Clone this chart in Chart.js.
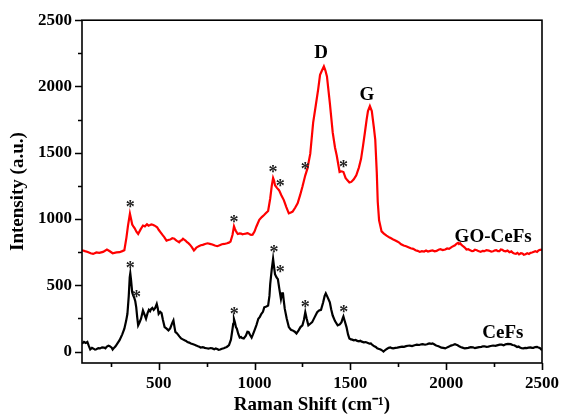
<!DOCTYPE html>
<html>
<head>
<meta charset="utf-8">
<script src="https://cdn.jsdelivr.net/npm/chart.js@4"></script>
<style>
  body { margin: 0; background: #fff; }
</style>
</head>
<body>
<canvas id="raman" width="569" height="416"></canvas>
<script>
// GO-CeFs spectrum (red)
const goShift = [100,115,130,145,158,175,190,210,230,245,260,280,296,310,321,332,340,350,356,362,368,375,384,393,405,418,428,439,447,455,462,469,477,485,492,500,510,520,530,541,550,560,571,582,590,595,601,607,614,620,627,633,640,648,655,663,672,684,690,697,703,709,720,730,742,755,767,780,793,806,818,830,843,857,866,875,885,893,898,903,908,913,922,930,937,944,954,964,970,975,982,990,1000,1010,1025,1038,1050,1060,1071,1082,1090,1097,1102,1107,1117,1128,1140,1153,1166,1179,1190,1199,1212,1225,1238,1250,1265,1276,1291,1306,1320,1332,1342,1352,1362,1370,1378,1393,1408,1420,1429,1444,1455,1464,1475,1485,1495,1505,1518,1531,1545,1556,1566,1576,1585,1592,1602,1612,1622,1630,1638,1643,1650,1663,1675,1689,1705,1715,1724,1735,1745,1755,1765,1778,1791,1803,1815,1828,1840,1851,1862,1873,1885,1895,1905,1917,1929,1940,1950,1960,1970,1982,1995,2005,2015,2030,2046,2055,2062,2067,2073,2080,2088,2097,2106,2115,2125,2135,2142,2150,2160,2168,2180,2190,2200,2210,2222,2235,2245,2255,2262,2270,2278,2285,2293,2301,2310,2320,2330,2340,2348,2355,2364,2372,2380,2390,2398,2405,2414,2423,2432,2440,2448,2455,2465,2474,2482,2490,2500];
const goIntensity = [765,758,752,742,737,748,745,752,770,757,742,748,750,758,765,862,950,1040,1000,959,945,930,905,887,920,951,945,961,950,955,960,957,952,945,938,919,900,880,862,837,842,845,855,852,840,835,830,825,836,840,852,845,838,825,818,807,790,763,772,785,790,795,802,805,812,817,813,808,800,795,802,810,812,817,822,830,880,944,925,910,898,887,892,890,885,887,890,894,890,885,880,882,905,944,994,1015,1030,1045,1061,1155,1250,1310,1290,1255,1235,1218,1180,1143,1090,1043,1050,1056,1085,1118,1180,1243,1330,1380,1493,1728,1860,1976,2088,2120,2151,2120,2076,1877,1653,1540,1479,1355,1360,1355,1310,1292,1275,1280,1300,1330,1390,1454,1550,1653,1750,1815,1852,1815,1700,1600,1350,1130,990,907,890,875,860,853,845,838,830,822,810,800,795,788,780,775,765,760,752,758,755,762,755,760,763,757,760,768,772,766,770,778,775,790,802,815,820,812,818,805,795,785,770,772,765,758,760,768,765,758,752,760,758,766,762,755,757,764,765,758,758,770,768,760,757,762,750,756,745,740,738,745,733,742,740,730,735,742,737,745,748,752,758,752,763,768,770,765];

// CeFs spectrum (black)
const ceShift = [100,110,120,128,135,143,152,160,168,175,185,194,205,215,222,230,238,245,255,260,268,275,285,296,310,321,330,337,344,349,352,356,362,368,372,378,383,388,393,400,408,418,426,434,442,449,455,460,467,474,482,490,495,500,508,515,522,531,540,551,560,566,572,577,582,587,594,600,608,617,626,635,643,650,659,668,680,690,698,705,712,719,730,740,750,760,770,780,790,798,805,813,821,830,840,848,855,861,867,877,883,889,893,898,903,908,915,923,930,935,944,955,963,969,977,985,992,1000,1010,1020,1028,1036,1044,1051,1062,1071,1078,1082,1090,1097,1102,1107,1115,1122,1130,1138,1144,1148,1153,1158,1168,1179,1190,1199,1210,1219,1230,1240,1250,1258,1265,1272,1281,1291,1301,1314,1327,1337,1347,1358,1366,1372,1380,1393,1400,1408,1420,1434,1445,1454,1460,1464,1470,1480,1488,1495,1503,1510,1518,1528,1536,1545,1552,1560,1570,1580,1592,1600,1607,1615,1625,1633,1640,1650,1658,1665,1673,1682,1690,1700,1709,1717,1724,1735,1745,1757,1770,1780,1791,1800,1810,1822,1835,1847,1860,1870,1878,1890,1900,1908,1915,1922,1929,1937,1945,1952,1960,1968,1975,1985,1995,2003,2010,2018,2025,2035,2046,2053,2060,2068,2075,2085,2097,2106,2115,2128,2140,2150,2160,2172,2184,2192,2200,2210,2220,2232,2245,2257,2270,2280,2290,2300,2310,2322,2337,2346,2355,2362,2370,2378,2385,2394,2403,2412,2420,2430,2440,2448,2455,2465,2474,2482,2490,2500];
const ceIntensity = [60,73,65,73,45,16,28,22,15,18,26,24,32,30,25,38,45,41,30,16,30,40,62,86,130,173,230,285,420,560,590,540,446,420,409,380,334,260,198,220,248,310,280,248,290,315,305,320,330,315,330,360,330,285,300,290,240,185,175,160,175,198,220,235,190,148,140,130,115,99,92,85,80,72,68,61,55,50,45,40,36,31,34,28,25,22,27,24,18,24,20,14,16,22,25,30,35,42,49,90,148,210,245,220,185,173,135,106,110,103,99,120,150,148,125,106,130,160,200,248,262,285,300,334,340,347,420,509,620,700,640,584,560,546,470,397,440,446,380,322,250,185,165,160,150,136,160,185,198,240,297,250,198,210,222,260,297,310,315,370,420,439,415,372,320,272,230,198,205,222,250,265,235,185,130,99,92,90,85,88,81,78,82,75,70,72,65,60,61,50,40,35,25,20,16,10,0,12,20,28,31,26,24,28,30,34,38,36,41,44,45,42,48,52,50,55,56,52,55,60,62,58,61,55,48,44,40,35,30,28,24,30,35,40,45,50,56,52,48,40,35,30,24,26,28,34,32,26,30,34,36,40,40,36,38,42,46,44,49,52,52,48,55,58,56,50,48,42,35,38,30,25,24,28,26,30,32,28,28,34,36,30,25,11];

// peak markers and labels, in data coordinates
const goStars = [[352,1110],[893,999],[1097,1375],[1134,1275],[1265,1399],[1464,1412]];
const ceStars = [[352,653],[384,434],[894,310],[1102,772],[1134,621],[1265,360],[1466,322]];
const bandLabels = [["D",1347,2253],["G",1587,1937],["GO-CeFs",2245,862],["CeFs",2296,140]];

const xTicks = [250,500,750,1000,1250,1500,1750,2000,2250,2500];
const yTicks = [0,250,500,750,1000,1250,1500,1750,2000,2250,2500];

const serif = "'Liberation Serif', 'Times New Roman', serif";

const frame = {
  id: "frame",
  afterDraw(chart) {
    const { ctx, chartArea: a, scales } = chart;
    const x = scales.x, y = scales.y;
    ctx.save();
    ctx.strokeStyle = "#000";
    ctx.lineWidth = 1.6;
    ctx.strokeRect(a.left, a.top, a.right - a.left, a.bottom - a.top);

    ctx.beginPath();
    xTicks.forEach((v) => {
      const px = Math.round(x.getPixelForValue(v)) + 0.5;
      const len = v % 500 === 0 ? 7 : 4;
      ctx.moveTo(px, a.bottom);
      ctx.lineTo(px, a.bottom + len);
    });
    yTicks.forEach((v) => {
      const py = Math.round(y.getPixelForValue(v)) + 0.5;
      const len = v % 500 === 0 ? 7 : 4;
      ctx.moveTo(a.left, py);
      ctx.lineTo(a.left - len, py);
    });
    ctx.stroke();

    ctx.fillStyle = "#222";
    ctx.textAlign = "center";
    ctx.textBaseline = "alphabetic";
    ctx.font = "bold 18px " + serif;
    goStars.concat(ceStars).forEach(([sx, sy]) => {
      ctx.fillText("*", x.getPixelForValue(sx), y.getPixelForValue(sy) + 9);
    });

    ctx.fillStyle = "#000";
    ctx.textBaseline = "middle";
    ctx.font = "bold 19px " + serif;
    bandLabels.forEach(([t, lx, ly]) => {
      ctx.fillText(t, x.getPixelForValue(lx), y.getPixelForValue(ly));
    });
    ctx.restore();
  },
};

new Chart(document.getElementById("raman"), {
  type: "scatter",
  data: {
    datasets: [
      {
        label: "GO-CeFs",
        data: goShift.map((v, i) => ({ x: v, y: goIntensity[i] })),
        borderColor: "#ff0000",
      },
      {
        label: "CeFs",
        data: ceShift.map((v, i) => ({ x: v, y: ceIntensity[i] })),
        borderColor: "#000000",
      },
    ],
  },
  options: {
    responsive: false,
    animation: false,
    showLine: true,
    elements: {
      point: { radius: 0 },
      line: { borderWidth: 2.2, tension: 0 },
    },
    layout: { padding: { top: 17, right: 17, left: 0, bottom: 0 } },
    plugins: { legend: { display: false }, tooltip: { enabled: false } },
    scales: {
      x: {
        type: "linear",
        min: 100,
        max: 2500,
        grid: { display: false, drawTicks: false },
        border: { display: false },
        afterBuildTicks: (s) => {
          s.ticks = [500, 1000, 1500, 2000, 2500].map((v) => ({ value: v }));
        },
        afterFit: (s) => { s.height = 53; },
        ticks: {
          padding: 10,
          color: "#000",
          maxRotation: 0,
          callback: (v) => String(v),
          font: { family: serif, size: 17, weight: "bold" },
        },
        title: {
          display: true,
          text: "Raman Shift (cm⁻¹)",
          color: "#000",
          padding: { top: -3, bottom: 0 },
          font: { family: serif, size: 19, weight: "bold" },
        },
      },
      y: {
        min: -86,
        max: 2500,
        grid: { display: false, drawTicks: false },
        border: { display: false },
        afterBuildTicks: (s) => {
          s.ticks = [0, 500, 1000, 1500, 2000, 2500].map((v) => ({ value: v }));
        },
        afterFit: (s) => { s.width = 82; },
        ticks: {
          padding: 10,
          color: "#000",
          callback: (v) => String(v),
          font: { family: serif, size: 17, weight: "bold" },
        },
        title: {
          display: true,
          text: "Intensity (a.u.)",
          color: "#000",
          padding: { top: 7, bottom: 0 },
          font: { family: serif, size: 19, weight: "bold" },
        },
      },
    },
  },
  plugins: [frame],
});
</script>
</body>
</html>
